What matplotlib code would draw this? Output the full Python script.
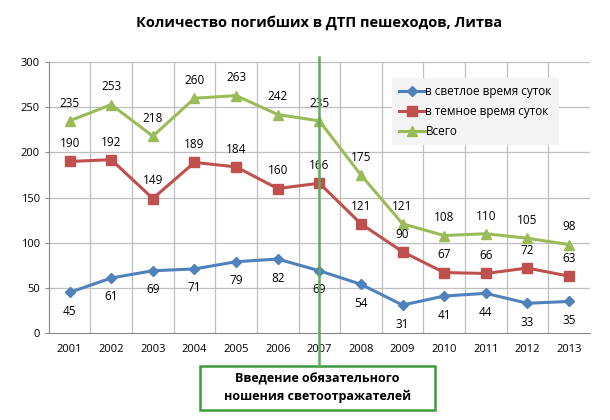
import numpy as np
import matplotlib
matplotlib.use('Agg')
import matplotlib.pyplot as plt
from matplotlib.patches import Rectangle

years = ['2001', '2002', '2003', '2004', '2005', '2006', '2007',
         '2008', '2009', '2010', '2011', '2012', '2013']
day = [45, 61, 69, 71, 79, 82, 69, 54, 31, 41, 44, 33, 35]
night = [190, 192, 149, 189, 184, 160, 166, 121, 90, 67, 66, 72, 63]
total = [235, 253, 218, 260, 263, 242, 235, 175, 121, 108, 110, 105, 98]

labels = ['в светлое время суток', 'в темное время суток', 'Всего']
title = 'Количество погибших в ДТП пешеходов, Литва'
note = 'Введение обязательного\nношения светоотражателей'

plt.rcParams['font.family'] = ['Open Sans', 'DejaVu Sans']

fig = plt.figure(figsize=(6.1, 4.2), dpi=100)
ax = fig.add_axes([0.080, 0.207, 0.887, 0.645])

x = np.arange(len(years))
ax.plot(x, day, color='#4F81BD', marker='D', ms=5.5, lw=2.2, label=labels[0])
ax.plot(x, night, color='#C0504D', marker='s', ms=6.5, lw=2.2, label=labels[1])
ax.plot(x, total, color='#9BBB59', marker='^', ms=6.5, lw=2.2, label=labels[2])

for i in x:
    ax.annotate(str(total[i]), (i, total[i]), xytext=(0, 8), textcoords='offset points',
                ha='center', va='bottom', fontsize=8.5)
    ax.annotate(str(night[i]), (i, night[i]), xytext=(0, 8), textcoords='offset points',
                ha='center', va='bottom', fontsize=8.5)
    ax.annotate(str(day[i]), (i, day[i]), xytext=(0, -9), textcoords='offset points',
                ha='center', va='top', fontsize=8.5)

ax.set_xlim(-0.5, len(years) - 0.5)
ax.set_ylim(0, 300)
ax.set_yticks(np.arange(0, 301, 50))
ax.set_xticks(x)
ax.set_xticklabels(years, fontsize=8)
ax.tick_params(axis='y', labelsize=8, length=3, color='#888888')
ax.tick_params(axis='x', length=0, pad=8)

# gridlines: horizontal at ticks, vertical at category borders
for yv in np.arange(50, 301, 50):
    ax.axhline(yv, color='#bfbfbf', lw=0.9, zorder=0)
for xv in np.arange(0.5, len(years) - 0.5, 1):
    ax.axvline(xv, color='#bfbfbf', lw=0.9, zorder=0)
for sp in ['top', 'right']:
    ax.spines[sp].set_visible(False)
ax.spines['left'].set_color('#888888')
ax.spines['bottom'].set_color('#888888')

leg = ax.legend(loc='upper left', bbox_to_anchor=(0.634, 0.941), borderaxespad=0,
                fontsize=8.5, frameon=True, fancybox=False, handlelength=2.2,
                handletextpad=0.05, borderpad=0.6, labelspacing=0.6)
leg.get_frame().set_facecolor('#f4f4f4')
leg.get_frame().set_edgecolor('none')
leg.get_frame().set_alpha(1)

fig.text(0.523, 0.945, title, ha='center', va='center', fontsize=10.5, fontweight='bold')

# vertical marker line and note box
line_x = ax.transData.transform((6, 0))[0] / fig.bbox.width
fig.add_artist(plt.Line2D([line_x, line_x], [0.128, 0.864], color='#5cac5c', lw=1.8))
fig.add_artist(Rectangle((0.328, 0.025), 0.385, 0.103, transform=fig.transFigure,
                         facecolor='white', edgecolor='#3c9a3c', lw=1.8))
fig.text(0.52, 0.077, note, ha='center', va='center', fontsize=9, fontweight='bold',
         linespacing=1.5)

fig.savefig('out.png', dpi=100)
